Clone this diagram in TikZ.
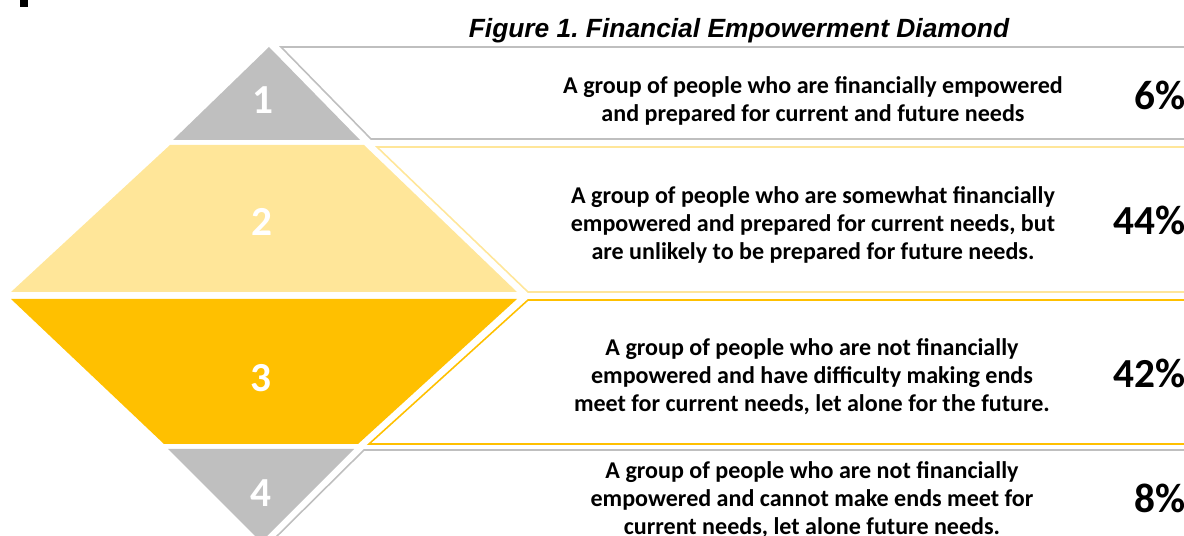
\documentclass[tikz,border=0pt]{standalone}
\usepackage{fontspec}
\setmainfont{Carlito}
\newfontfamily\titlefont{Liberation Sans}
\definecolor{segGrey}{HTML}{BFBFBF}
\definecolor{segLight}{HTML}{FFE699}
\definecolor{segGold}{HTML}{FFC000}
\frenchspacing

\begin{document}
\begin{tikzpicture}[x=0.02cm,y=-0.02cm,
        segnum/.style={anchor=base,text=white,inner sep=0pt,font=\bfseries\fontsize{23.5}{28}\selectfont},
        desc/.style={align=center,inner sep=0pt,font=\bfseries\fontsize{13.7}{16}\selectfont},
        share/.style={anchor=base east,inner sep=0pt,font=\bfseries\fontsize{23.5}{28}\selectfont},
        frame/.style={line width=0.9pt}]
        \useasboundingbox(0,0)rectangle(1184,536);
        % Clipped mark
        \fill[black](20,0)rectangle(28,7);
        % Title
        \node[anchor=base,inner sep=0pt,font=\titlefont\bfseries\itshape\fontsize{15}{18}\selectfont](title)at(739,38){Figure 1. Financial Empowerment Diamond};
        % Diamond segments
        \fill[segGrey](269,47)--(360,140)--(173,140)--cycle;
        \fill[segLight](170,145)--(364,145)--(517,292)--(11,292)--cycle;
        \fill[segGold](11,299)--(517,299)--(358,444)--(164,444)--cycle;
        \fill[segGrey](168,449)--(354,449)--(261,542)--cycle;
        % Band outlines
        \draw[segGrey,frame](1190,47)--(281,47)--(371,139)--(1190,139);
        \draw[segLight,frame](1190,147)--(377,147)--(528,292)--(1190,292);
        \draw[segGold,frame](1190,300)--(528,300)--(369,444)--(1190,444);
        \draw[segGrey,frame](1190,450)--(364,450)--(267,546);
        % Segment numbers
        \node[segnum](n1)at(263,114){1};
        \node[segnum](n2)at(262,236){2};
        \node[segnum](n3)at(261,392){3};
        \node[segnum](n4)at(261,507){4};
        % Group descriptions
        \node[desc](d1)at(813,101){A group of people who are financially empowered\\and prepared for current and future needs};
        \node[desc](d2)at(813,225){A group of people who are somewhat financially\\empowered and prepared for current needs, but\\are unlikely to be prepared for future needs.};
        \node[desc](d3)at(812,377){A group of people who are not financially\\empowered and have difficulty making ends\\meet for current needs, let alone for the future.};
        \node[desc](d4)at(812,500){A group of people who are not financially\\empowered and cannot make ends meet for\\current needs, let alone future needs.};
        % Shares
        \node[share](p1)at(1186,110){6\%};
        \node[share](p2)at(1186,235){44\%};
        \node[share](p3)at(1186,388){42\%};
        \node[share](p4)at(1186,513){8\%};
    \end{tikzpicture}
\end{document}
